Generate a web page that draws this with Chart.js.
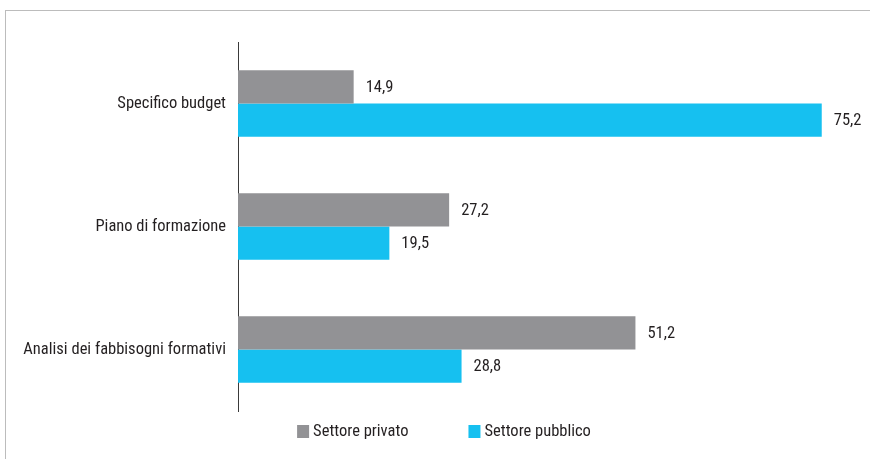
<!DOCTYPE html>
<html>
<head>
<meta charset="utf-8">
<script src="https://cdn.jsdelivr.net/npm/chart.js@4"></script>
<style>
  html, body { margin: 0; padding: 0; background: #fff; }
  body { width: 870px; height: 459px; position: relative; overflow: hidden; }
  .frame { position: absolute; left: 5px; top: 10px; width: 900px; height: 460px;
           border-top: 1px solid #bcbcbc; border-left: 1px solid #bcbcbc; }
  #chart { position: absolute; left: 0; top: 0; }
</style>
</head>
<body>
<div class="frame"></div>
<canvas id="chart" width="870" height="459"></canvas>
<script>
const categories = ['Specifico budget', 'Piano di formazione', 'Analisi dei fabbisogni formativi'];
const privato  = [14.9, 27.2, 51.2];
const pubblico = [75.2, 19.5, 28.8];

const FONT = "'Roboto Condensed', 'DejaVu Sans Condensed', sans-serif";
const SIZE = 16.5;
const TEXT = '#231f20';
const GREY = '#929295';
const CYAN = '#16c0f0';

const fmt = v => v.toFixed(1).replace('.', ',');

// etichette con il valore a destra di ogni barra
const valueLabels = {
  id: 'valueLabels',
  afterDatasetsDraw(chart) {
    const ctx = chart.ctx;
    ctx.save();
    ctx.font = SIZE + 'px ' + FONT;
    ctx.fillStyle = TEXT;
    ctx.textAlign = 'left';
    ctx.textBaseline = 'middle';
    chart.data.datasets.forEach((ds, i) => {
      chart.getDatasetMeta(i).data.forEach((bar, j) => {
        ctx.fillText(fmt(ds.data[j]), bar.x + 12, bar.y + 1);
      });
    });
    ctx.restore();
  }
};

// legenda in basso, con più spazio fra le voci
const bottomLegend = {
  id: 'bottomLegend',
  afterDraw(chart) {
    const ctx = chart.ctx;
    const y = 431, box = 12, gap = 4, spacing = 60;
    ctx.save();
    ctx.font = SIZE + 'px ' + FONT;
    ctx.textBaseline = 'middle';
    const items = chart.data.datasets.map(ds => ({ text: ds.label, color: ds.backgroundColor, w: box + gap + ctx.measureText(ds.label).width }));
    const total = items.reduce((s, it) => s + it.w, 0) + spacing * (items.length - 1);
    let x = (chart.width + 18 - total) / 2;
    for (const it of items) {
      ctx.fillStyle = it.color;
      ctx.fillRect(x, y - 6, box, 13);
      ctx.fillStyle = TEXT;
      ctx.fillText(it.text, x + box + gap, y + 1);
      x += it.w + spacing;
    }
    ctx.restore();
  }
};

new Chart(document.getElementById('chart'), {
  type: 'bar',
  data: {
    labels: categories,
    datasets: [
      { label: 'Settore privato',  data: privato,  backgroundColor: GREY, categoryPercentage: 0.54, barPercentage: 1 },
      { label: 'Settore pubblico', data: pubblico, backgroundColor: CYAN, categoryPercentage: 0.54, barPercentage: 1 }
    ]
  },
  options: {
    indexAxis: 'y',
    responsive: false,
    animation: false,
    layout: { padding: { top: 42, bottom: 48, left: 0, right: 11 } },
    plugins: { legend: { display: false }, tooltip: { enabled: false } },
    scales: {
      x: { display: false, min: 0, max: 80 },
      y: {
        grid: { display: false, drawTicks: false },
        border: { display: true, color: '#3a3a3a', width: 1 },
        ticks: { color: TEXT, padding: 12, font: { family: FONT, size: SIZE } },
        afterFit(scale) { scale.width = 238; }
      }
    }
  },
  plugins: [valueLabels, bottomLegend]
});
</script>
</body>
</html>
